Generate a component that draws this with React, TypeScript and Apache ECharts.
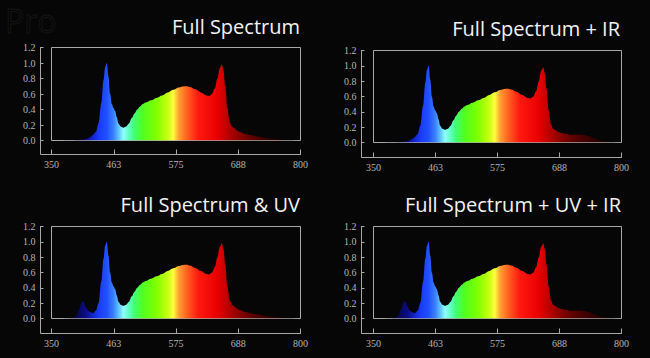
import { useEffect, useRef } from "react";
import * as echarts from "echarts";

// Wavelength samples (nm)
const wavelengths = [
  350, 360, 370, 380, 385, 390, 395, 400, 405, 408, 412, 416, 420, 425, 430, 435,
  440, 444, 447, 450, 453, 456, 459, 462, 465, 468, 471, 475, 480, 485, 490, 495,
  500, 505, 510, 515, 520, 530, 540, 550, 560, 570, 580, 590, 595, 600, 610, 620,
  630, 635, 640, 645, 650, 654, 658, 661, 664, 668, 672, 676, 680, 685, 690, 700,
  710, 720, 730, 740, 750, 760, 770, 780, 790, 800,
];

// Relative intensity per panel
const fullSpectrum = [
  0, 0, 0.001, 0.002, 0.003, 0.004, 0.005, 0.007, 0.01, 0.013, 0.02, 0.03, 0.045, 0.07, 0.11, 0.22,
  0.48, 0.78, 0.95, 1.0, 0.82, 0.6, 0.47, 0.42, 0.38, 0.3, 0.22, 0.18, 0.165, 0.18, 0.22, 0.29,
  0.35, 0.4, 0.44, 0.47, 0.49, 0.52, 0.55, 0.58, 0.62, 0.655, 0.685, 0.7, 0.7, 0.69, 0.66, 0.62,
  0.58, 0.575, 0.6, 0.67, 0.8, 0.93, 0.98, 0.9, 0.7, 0.42, 0.24, 0.18, 0.16, 0.13, 0.11, 0.085,
  0.07, 0.055, 0.042, 0.03, 0.022, 0.015, 0.01, 0.006, 0.003, 0,
];
const fullSpectrumIR = [
  0, 0, 0.001, 0.002, 0.003, 0.004, 0.005, 0.007, 0.01, 0.013, 0.02, 0.03, 0.045, 0.07, 0.11, 0.22,
  0.48, 0.78, 0.95, 1.0, 0.82, 0.6, 0.47, 0.42, 0.38, 0.3, 0.22, 0.18, 0.165, 0.18, 0.22, 0.29,
  0.35, 0.4, 0.44, 0.47, 0.49, 0.52, 0.55, 0.58, 0.62, 0.655, 0.685, 0.7, 0.7, 0.69, 0.66, 0.62,
  0.58, 0.575, 0.6, 0.67, 0.8, 0.93, 0.98, 0.9, 0.7, 0.42, 0.24, 0.18, 0.16, 0.14, 0.125, 0.11,
  0.1, 0.1, 0.1, 0.085, 0.06, 0.03, 0.012, 0.005, 0.002, 0,
];
const fullSpectrumUV = [
  0, 0, 0.001, 0.004, 0.008, 0.015, 0.04, 0.12, 0.22, 0.22, 0.15, 0.1, 0.08, 0.07, 0.1, 0.2,
  0.48, 0.78, 0.95, 1.0, 0.82, 0.6, 0.47, 0.42, 0.38, 0.3, 0.22, 0.18, 0.165, 0.18, 0.22, 0.29,
  0.35, 0.4, 0.44, 0.47, 0.49, 0.52, 0.55, 0.58, 0.62, 0.655, 0.685, 0.7, 0.7, 0.69, 0.66, 0.62,
  0.58, 0.575, 0.6, 0.67, 0.8, 0.93, 0.98, 0.9, 0.7, 0.42, 0.24, 0.18, 0.16, 0.13, 0.11, 0.085,
  0.07, 0.055, 0.042, 0.03, 0.022, 0.015, 0.01, 0.006, 0.003, 0,
];
const fullSpectrumUVIR = [
  0, 0, 0.001, 0.004, 0.008, 0.015, 0.04, 0.12, 0.22, 0.22, 0.15, 0.1, 0.08, 0.07, 0.1, 0.2,
  0.48, 0.78, 0.95, 1.0, 0.82, 0.6, 0.47, 0.42, 0.38, 0.3, 0.22, 0.18, 0.165, 0.18, 0.22, 0.29,
  0.35, 0.4, 0.44, 0.47, 0.49, 0.52, 0.55, 0.58, 0.62, 0.655, 0.685, 0.7, 0.7, 0.69, 0.66, 0.62,
  0.58, 0.575, 0.6, 0.67, 0.8, 0.93, 0.98, 0.9, 0.7, 0.42, 0.24, 0.18, 0.16, 0.14, 0.125, 0.11,
  0.1, 0.1, 0.1, 0.085, 0.06, 0.03, 0.012, 0.005, 0.002, 0,
];

const panelTitles = [
  "Full Spectrum",
  "Full Spectrum + IR",
  "Full Spectrum & UV",
  "Full Spectrum + UV + IR",
];
const panelSeries = [fullSpectrum, fullSpectrumIR, fullSpectrumUV, fullSpectrumUVIR];

const xTickValues = [350, 462.5, 575, 687.5, 800];
const xTickLabels = ["350", "463", "575", "688", "800"];

// wavelength -> colour used in the fill
const spectrumStops: [number, string][] = [
  [350, "#000000"],
  [380, "#040425"],
  [400, "#080860"],
  [412, "#0c0c88"],
  [425, "#1426d0"],
  [437, "#1a3cff"],
  [450, "#2050ff"],
  [462, "#3a80ff"],
  [472, "#60c8ff"],
  [480, "#90ffff"],
  [490, "#60ffc0"],
  [500, "#40ff70"],
  [515, "#50ff20"],
  [540, "#80ff00"],
  [560, "#c8ff10"],
  [570, "#ffff40"],
  [580, "#ffa030"],
  [595, "#ff6020"],
  [615, "#ff1a10"],
  [650, "#e80000"],
  [680, "#a00000"],
  [710, "#600000"],
  [750, "#300000"],
  [800, "#100000"],
];

const layout = [
  { left: 51.5, top: 47.5, width: 249, height: 93, axisX: 40.5, axisY: 154.5, titleRight: 300, titleY: 26 },
  { left: 373.5, top: 50.5, width: 248, height: 92, axisX: 361.5, axisY: 157.5, titleRight: 620, titleY: 28.5 },
  { left: 51.5, top: 226.5, width: 249, height: 92, axisX: 40.5, axisY: 333.5, titleRight: 300, titleY: 204.5 },
  { left: 373.5, top: 226.5, width: 248, height: 92, axisX: 361.5, axisY: 333.5, titleRight: 621, titleY: 204.5 },
];

const AXIS_COLOR = "#a8a8a8";
const LABEL_COLOR = "#b4b4b4";
const SERIF = "'Liberation Serif', 'DejaVu Serif', 'Times New Roman', serif";

export default function App() {
  const ref = useRef<HTMLDivElement>(null);

  useEffect(() => {
    if (!ref.current) return;
    const chart = echarts.init(ref.current, null, { renderer: "svg" });

    const gradient = {
      type: "linear",
      x: 0,
      y: 0,
      x2: 1,
      y2: 0,
      colorStops: spectrumStops.map(([w, c]) => ({ offset: (w - 350) / 450, color: c })),
    };

    const grids = layout.map((p) => ({
      left: p.left,
      top: p.top,
      width: p.width,
      height: p.height,
      show: true,
      borderColor: AXIS_COLOR,
      borderWidth: 1,
      backgroundColor: "transparent",
      containLabel: false,
    }));

    const xAxes = layout.map((p, i) => ({
      type: "value",
      gridIndex: i,
      min: 350,
      max: 800,
      offset: p.axisY - (p.top + p.height),
      axisLine: { show: true, onZero: false, lineStyle: { color: AXIS_COLOR, width: 1 } },
      axisTick: {
        show: true,
        inside: true,
        length: 5,
        customValues: xTickValues,
        lineStyle: { color: AXIS_COLOR },
      },
      axisLabel: {
        show: true,
        customValues: xTickValues,
        color: LABEL_COLOR,
        fontFamily: SERIF,
        fontSize: 10,
        margin: 5,
        formatter: (v: number) => {
          const idx = xTickValues.indexOf(v);
          return idx >= 0 ? xTickLabels[idx] : String(Math.round(v));
        },
      },
      splitLine: { show: false },
    }));

    const yAxes = layout.map((p, i) => ({
      type: "value",
      gridIndex: i,
      min: 0,
      max: 1.2,
      interval: 0.2,
      offset: p.left - p.axisX,
      axisLine: { show: true, onZero: false, lineStyle: { color: AXIS_COLOR, width: 1 } },
      axisTick: { show: true, inside: true, length: 3, lineStyle: { color: AXIS_COLOR } },
      axisLabel: {
        color: LABEL_COLOR,
        fontFamily: SERIF,
        fontSize: 10,
        margin: 5,
        formatter: (v: number) => v.toFixed(1),
      },
      splitLine: { show: false },
    }));

    const series = panelSeries.map((vals, i) => ({
      type: "line",
      xAxisIndex: i,
      yAxisIndex: i,
      data: wavelengths.map((w, k) => [w, vals[k]]),
      showSymbol: false,
      smooth: 0.35,
      smoothMonotone: "x",
      lineStyle: { width: 0, opacity: 0 },
      areaStyle: { color: gradient, opacity: 1 },
      silent: true,
    }));

    const graphics: any[] = [
      {
        type: "text",
        x: 5,
        y: 2,
        z: -10,
        style: {
          text: "Pro",
          fill: "transparent",
          stroke: "#171717",
          lineWidth: 0.8,
          fontSize: 32,
          lineHeight: 36,
          fontFamily: "Open Sans",
          verticalAlign: "top",
        },
      },
    ];
    layout.forEach((p, i) => {
      const bottom = p.top + p.height;
      graphics.push({
        type: "line",
        shape: { x1: p.axisX, y1: bottom, x2: p.axisX, y2: p.axisY },
        style: { stroke: AXIS_COLOR, lineWidth: 1 },
      });
      graphics.push({
        type: "line",
        shape: { x1: p.axisX, y1: p.axisY, x2: p.left, y2: p.axisY },
        style: { stroke: AXIS_COLOR, lineWidth: 1 },
      });
      graphics.push({
        type: "text",
        x: p.titleRight,
        y: p.titleY,
        style: {
          text: panelTitles[i],
          fill: "#f2f2f2",
          fontSize: 20,
          fontFamily: "Open Sans",
          align: "right",
          verticalAlign: "middle",
        },
      });
    });

    chart.setOption({
      animation: false,
      backgroundColor: "#060606",
      grid: grids,
      xAxis: xAxes,
      yAxis: yAxes,
      series,
      graphic: graphics,
    });

    return () => chart.dispose();
  }, []);

  return (
    <div
      ref={ref}
      style={{ position: "fixed", left: 0, top: 0, width: 650, height: 358 }}
    />
  );
}
